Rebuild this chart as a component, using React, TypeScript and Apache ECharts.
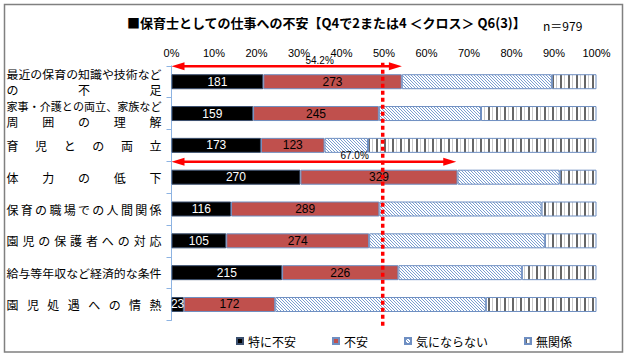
import React, { useEffect, useRef } from 'react';
import * as echarts from 'echarts';

// ---- data ----
const chartTitle = '■保育士としての仕事への不安【Q4で2または4 ＜クロス＞ Q6(3)】';
const sampleLabel = 'n＝979';
const categories = [
  '最近の保育の知識や技術など\nの不足',
  '家事・介護との両立、家族など\n周囲の理解',
  '育児との両立',
  '体力の低下',
  '保育の職場での人間関係',
  '園児の保護者への対応',
  '給与等年収など経済的な条件',
  '園児処遇への情熱',
];
const seriesNames = ['特に不安', '不安', '気にならない', '無関係'];
const veryAnxious = [181, 159, 173, 270, 116, 105, 215, 23];
const anxious = [273, 245, 123, 329, 289, 274, 226, 172];
const notConcerned = [296, 199, 84, 214, 316, 337, 240, 396];
const unrelated = [88, 225, 442, 77, 107, 99, 145, 208];
const highlightRows = [0, 3];
const highlightValues = [54.2, 67.0];
const thresholdValue = 49.7;

// ---- styles ----
const CJK = "'Noto Sans CJK JP', 'Noto Sans', sans-serif";
const NUM = "'Liberation Sans Narrow', 'Liberation Sans', Arial, sans-serif";
const LABEL_W = 155;
const LABEL_FS = 12;
const LABEL_LH = 16;

function buildLabels() {
  const rich: Record<string, any> = {};
  const formatted = categories.map((cat, r) =>
    cat
      .split('\n')
      .map((line, l) => {
        const chars = Array.from(line);
        const n = chars.length;
        const fs = n * LABEL_FS > LABEL_W ? LABEL_W / n : LABEL_FS;
        const gap = n > 1 ? (LABEL_W - n * fs) / (n - 1) : 0;
        const kc = `r${r}l${l}c`;
        const ke = `r${r}l${l}e`;
        rich[kc] = { fontSize: fs, width: fs + gap, align: 'left', fontFamily: CJK, color: '#000', lineHeight: LABEL_LH };
        rich[ke] = { fontSize: fs, width: fs, align: 'left', fontFamily: CJK, color: '#000', lineHeight: LABEL_LH };
        return chars.map((ch, i) => `{${i === n - 1 ? ke : kc}|${ch}}`).join('');
      })
      .join('\n')
  );
  return { rich, formatted };
}

function makeHatch() {
  const c = document.createElement('canvas');
  c.width = 6;
  c.height = 6;
  const g = c.getContext('2d')!;
  g.fillStyle = '#ffffff';
  g.fillRect(0, 0, 6, 6);
  g.strokeStyle = '#7a9dd0';
  g.lineWidth = 1;
  for (let k = -6; k <= 6; k += 3) {
    g.beginPath();
    g.moveTo(k, 0);
    g.lineTo(k + 6, 6);
    g.stroke();
  }
  return c;
}

function makeStripes() {
  const c = document.createElement('canvas');
  c.width = 8;
  c.height = 4;
  const g = c.getContext('2d')!;
  g.fillStyle = '#ffffff';
  g.fillRect(0, 0, 8, 4);
  g.fillStyle = '#666666';
  g.fillRect(0, 0, 2, 4);
  g.fillStyle = '#cccccc';
  g.fillRect(4, 0, 1, 4);
  return c;
}

export default function App() {
  const ref = useRef<HTMLDivElement>(null);

  useEffect(() => {
    const el = ref.current!;
    const chart = echarts.init(el, null, { renderer: 'svg' });
    const { rich, formatted } = buildLabels();
    const counts = [veryAnxious, anxious, notConcerned, unrelated];
    const totals = categories.map((_, i) => counts.reduce((s, a) => s + a[i], 0));
    const fills: any[] = [
      '#000000',
      '#c0504d',
      { image: makeHatch(), repeat: 'repeat' },
      { image: makeStripes(), repeat: 'repeat' },
    ];
    const borders = ['#3b4f6e', '#6f8fc2', '#6f8fc2', '#6f8fc2'];

    chart.setOption({
      animation: false,
      title: [
        {
          text: chartTitle,
          left: 127,
          top: 16,
          padding: 0,
          textStyle: { fontSize: 13, fontWeight: 'bold', fontFamily: CJK, color: '#000' },
        },
        {
          text: sampleLabel,
          left: 543,
          top: 19,
          padding: 0,
          textStyle: { fontSize: 12, fontWeight: 'normal', fontFamily: CJK, color: '#000' },
        },
      ],
      legend: {
        data: seriesNames,
        left: 231,
        top: 330,
        itemWidth: 6,
        itemHeight: 6,
        itemGap: 36,
        icon: 'rect',
        textStyle: { fontSize: 12, fontFamily: CJK, color: '#000' },
        selectedMode: false,
      },
      grid: { left: 171.5, right: 35.5, top: 65.8, bottom: 35.6, containLabel: false },
      xAxis: {
        type: 'value',
        position: 'top',
        min: 0,
        max: 100,
        interval: 10,
        axisLine: { show: false },
        axisTick: { show: false },
        splitLine: { show: false },
        axisLabel: { formatter: '{value}%', fontSize: 11, fontFamily: NUM, color: '#000', margin: 7 },
      },
      yAxis: {
        type: 'category',
        inverse: true,
        data: categories,
        axisLine: { show: true, lineStyle: { color: '#8db3e2', width: 1 } },
        axisTick: { show: true, length: 5, lineStyle: { color: '#8db3e2' } },
        axisLabel: {
          margin: 10,
          formatter: (_v: string, i: number) => formatted[i],
          rich,
        },
      },
      series: counts.map((arr, s) => ({
        type: 'bar',
        name: seriesNames[s],
        stack: 'total',
        barWidth: 15,
        data: arr.map((v, i) => (v / totals[i]) * 100),
        itemStyle: { color: fills[s], borderColor: borders[s], borderWidth: 1 },
        emphasis: { disabled: true },
        label:
          s < 2
            ? {
                show: true,
                position: 'inside',
                color: s === 0 ? '#ffffff' : '#000000',
                fontSize: 12,
                fontFamily: NUM,
                formatter: (p: any) => String(arr[p.dataIndex]),
              }
            : { show: false },
      })),
    });

    const px = (v: number) => chart.convertToPixel({ xAxisIndex: 0 }, v) as number;
    const py = (i: number) => chart.convertToPixel({ yAxisIndex: 0 }, i) as number;
    const band = py(1) - py(0);
    const x0 = px(0);
    const gridTop = py(0) - band / 2;
    const gridBottom = py(categories.length - 1) + band / 2;
    const elements: any[] = [
      {
        type: 'rect',
        shape: { x: 4.5, y: 4.5, width: 618, height: 347.5 },
        style: { fill: 'none', stroke: '#808080', lineWidth: 1.5 },
        z: 0,
        silent: true,
      },
    ];
    highlightRows.forEach((row, k) => {
      const y = py(row) - band / 2 + 0.5;
      const x1 = px(highlightValues[k]);
      elements.push({
        type: 'line',
        shape: { x1: x0 + 8, y1: y, x2: x1 - 8, y2: y },
        style: { stroke: '#ff0000', lineWidth: 2.5 },
        z: 100,
        silent: true,
      });
      elements.push({
        type: 'polygon',
        shape: { points: [[x0, y], [x0 + 13, y - 4], [x0 + 13, y + 4]] },
        style: { fill: '#ff0000' },
        z: 100,
        silent: true,
      });
      elements.push({
        type: 'polygon',
        shape: { points: [[x1, y], [x1 - 13, y - 4], [x1 - 13, y + 4]] },
        style: { fill: '#ff0000' },
        z: 100,
        silent: true,
      });
      elements.push({
        type: 'text',
        x: x0 + 0.643 * (x1 - x0),
        y: y - 6,
        style: {
          text: highlightValues[k].toFixed(1) + '%',
          fill: '#000',
          fontSize: 10,
          fontFamily: NUM,
          align: 'center',
          verticalAlign: 'middle',
        },
        z: 100,
        silent: true,
      });
    });
    const xt = px(thresholdValue);
    elements.push({
      type: 'line',
      shape: { x1: xt, y1: gridTop - 3, x2: xt, y2: gridBottom + 8 },
      style: { stroke: '#ff0000', lineWidth: 3.5, lineDash: [4, 3] },
      z: 100,
      silent: true,
    });
    chart.setOption({ graphic: { elements } });

    return () => chart.dispose();
  }, []);

  return (
    <div
      ref={ref}
      style={{ position: 'absolute', left: 0, top: 0, width: 632, height: 356, background: '#ffffff' }}
    />
  );
}
